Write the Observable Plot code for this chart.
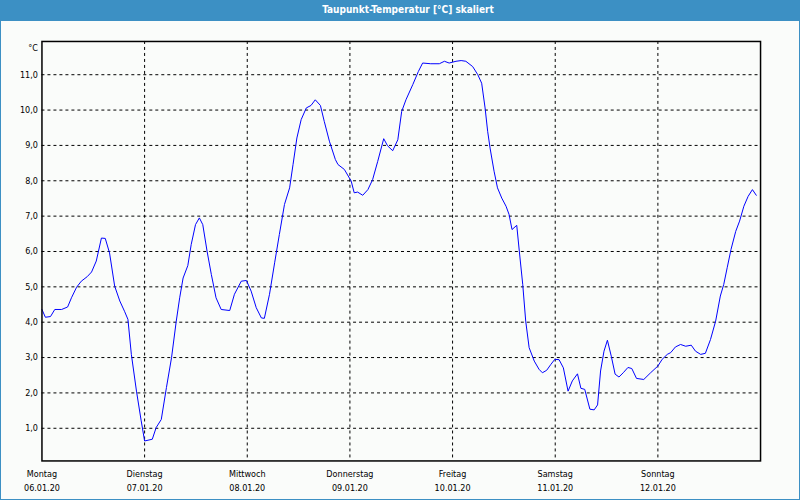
<!DOCTYPE html>
<html>
<head>
<meta charset="utf-8">
<script src="https://cdn.jsdelivr.net/npm/d3@7"></script>
<script src="https://cdn.jsdelivr.net/npm/@observablehq/plot@0.6"></script>
<style>
  html, body { margin: 0; padding: 0; background: #fff; }
  #wrap { position: relative; width: 800px; height: 500px; box-sizing: border-box;
          border: 1px solid #3c90c4; background: #fafcfa; overflow: hidden; }
  #title { position: absolute; left: -1px; top: -1px; width: 800px; height: 21px; background: #3c90c4;
           color: #fff; font: bold 10px "DejaVu Sans Condensed", "DejaVu Sans", sans-serif;
           line-height: 19px; text-align: center; box-sizing: border-box; padding-left: 16px; }
  #chart { position: absolute; left: -1px; top: 19px; }
</style>
</head>
<body>
<div id="wrap">
  <div id="title">Taupunkt-Temperatur [°C] skaliert</div>
  <div id="chart"></div>
</div>
<script>
// Hours since Monday 06.01.2020 00:00
const hours = [0, 0.8, 2.0, 3.0, 4.6, 6.0, 6.9, 8.1, 9.2, 10.6, 11.6, 12.7, 13.9, 14.8, 15.8, 17.0, 18.2, 19.3, 20.1, 20.9,
  22.1, 23.2, 24.0, 25.8, 26.7, 27.9, 29.1, 30.3, 31.4, 32.2, 33.0, 34.1, 34.9, 35.9, 36.8, 37.6, 38.6, 39.6, 40.7, 41.9,
  43.9, 45.0, 46.6, 47.8, 48.9, 50.1, 51.3, 52.0, 53.2, 54.4, 55.5, 56.7, 57.9, 58.7, 59.6, 60.6, 61.8, 62.9, 63.9, 65.1,
  66.0, 67.2, 68.6, 69.2, 70.7, 72.3, 73.0, 73.8, 75.0, 76.2, 77.3, 78.5, 79.9, 80.8, 82.0, 83.2, 84.1, 85.1, 86.7, 88.0,
  89.0, 90.9, 92.9, 94.1, 95.2, 96.8, 98.0, 99.1, 100.7, 101.9, 102.8, 103.6, 104.2, 104.8, 105.7, 106.5, 107.5, 108.5, 109.2, 109.9,
  111.0, 111.6, 112.4, 113.1, 113.9, 115.1, 116.2, 117.0, 118.0, 119.0, 119.9, 120.9, 121.9, 123.0, 124.0, 125.2, 126.0, 126.9, 128.1, 129.1,
  129.9, 130.6, 131.4, 132.2, 133.1, 134.0, 134.9, 135.9, 137.0, 137.9, 139.0, 140.7, 142.3, 144.0, 145.0, 146.2, 147.0, 148.1, 149.3, 150.5,
  151.8, 152.8, 154.0, 155.1, 156.3, 157.5, 158.6, 159.4, 160.2, 161.1, 162.2, 163.1, 164.1, 165.1, 166.1, 167.0];
const values = [4.36, 4.14, 4.16, 4.36, 4.36, 4.43, 4.69, 4.99, 5.16, 5.29, 5.42, 5.73, 6.38, 6.37, 5.96, 5.02, 4.60, 4.31, 4.08, 3.09,
  2.05, 1.21, 0.64, 0.69, 1.02, 1.25, 2.15, 3.00, 4.03, 4.69, 5.25, 5.60, 6.20, 6.76, 6.95, 6.76, 6.01, 5.35, 4.69, 4.36,
  4.33, 4.79, 5.16, 5.18, 4.88, 4.41, 4.12, 4.11, 4.79, 5.68, 6.48, 7.33, 7.80, 8.46, 9.21, 9.73, 10.06, 10.13, 10.29, 10.13,
  9.68, 9.12, 8.60, 8.46, 8.32, 7.99, 7.66, 7.68, 7.59, 7.75, 8.03, 8.55, 9.19, 8.99, 8.85, 9.16, 9.96, 10.29, 10.72, 11.09,
  11.33, 11.31, 11.31, 11.38, 11.33, 11.38, 11.40, 11.38, 11.23, 11.00, 10.76, 10.06, 9.40, 8.90, 8.27, 7.80, 7.51, 7.28, 7.05, 6.62,
  6.74, 6.01, 5.07, 4.03, 3.28, 2.90, 2.67, 2.57, 2.64, 2.81, 2.95, 2.94, 2.71, 2.05, 2.34, 2.54, 2.13, 2.10, 1.54, 1.52,
  1.66, 2.62, 3.18, 3.49, 3.04, 2.53, 2.45, 2.57, 2.72, 2.69, 2.41, 2.38, 2.57, 2.76, 2.95, 3.09, 3.14, 3.30, 3.37, 3.32,
  3.35, 3.18, 3.09, 3.12, 3.51, 4.03, 4.74, 5.07, 5.54, 6.06, 6.57, 6.86, 7.28, 7.56, 7.75, 7.59];
const dayNames = ["Montag", "Dienstag", "Mittwoch", "Donnerstag", "Freitag", "Samstag", "Sonntag"];
const dayDates = ["06.01.20", "07.01.20", "08.01.20", "09.01.20", "10.01.20", "11.01.20", "12.01.20"];
const yTicks = [1, 2, 3, 4, 5, 6, 7, 8, 9, 10, 11];
const unitLabel = "°C";

const start = Date.UTC(2020, 0, 6);
const data = hours.map((h, i) => ({t: new Date(start + h * 3600e3), v: values[i]}));
const days = dayNames.map((n, i) => ({t: new Date(start + i * 864e5), name: n, date: dayDates[i]}));
const fmt = d => d.toFixed(1).replace(".", ",");
const dash = {stroke: "#000", strokeWidth: 1, strokeDasharray: "3,3"};

const chart = Plot.plot({
  width: 800,
  height: 481,
  marginTop: 21,
  marginBottom: 40,
  marginLeft: 41.5,
  marginRight: 39,
  style: {fontFamily: "'DejaVu Sans Condensed','DejaVu Sans',sans-serif", fontSize: "9px", background: "transparent", color: "#000", overflow: "visible"},
  x: {type: "utc", domain: [new Date(start), new Date(start + 7 * 864e5)], axis: null},
  y: {domain: [0.076, 11.94], axis: null},
  marks: [
    Plot.ruleY(yTicks, dash),
    Plot.ruleX(days.slice(1), {x: "t", ...dash}),
    Plot.line(data, {x: "t", y: "v", stroke: "#0000ff", strokeWidth: 1}),
    Plot.frame({stroke: "#000", strokeWidth: 1.5}),
    Plot.axisY(yTicks, {tickSize: 0, tickPadding: 4, tickFormat: fmt, fontSize: 9, label: null}),
    Plot.text(days, {x: "t", text: "name", frameAnchor: "bottom", dy: 16.5, fill: "#000"}),
    Plot.text(days, {x: "t", text: "date", frameAnchor: "bottom", dy: 30.5, fill: "#000"}),
    Plot.text([unitLabel], {text: d => d, frameAnchor: "top-left", dx: -4, dy: 3, textAnchor: "end", fill: "#000"})
  ]
});
document.getElementById("chart").appendChild(chart);
</script>
</body>
</html>
